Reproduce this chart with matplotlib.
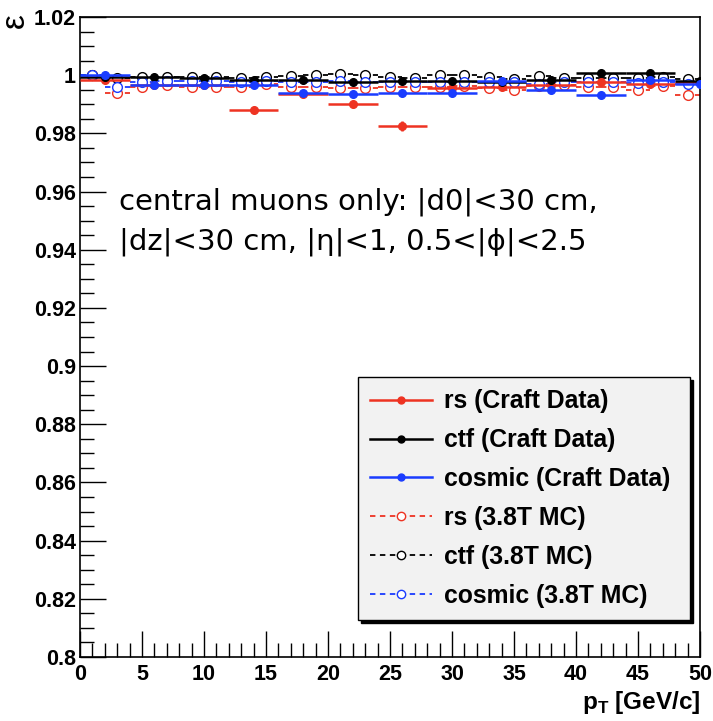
import numpy as np
import matplotlib
matplotlib.use("Agg")
import matplotlib.pyplot as plt
from matplotlib.lines import Line2D
from matplotlib.ticker import MultipleLocator

# data (4 GeV bins) and MC (2 GeV bins)
x_data = [2, 6, 10, 14, 18, 22, 26, 30, 34, 38, 42, 46, 50]
rs_data = [0.9985, 0.9965, 0.9965, 0.988, 0.9935, 0.990, 0.9825, 0.9955, 0.996, 0.9965, 0.9975, 0.997, 0.9975]
rs_data_err = [0.0005, 0.0005, 0.0006, 0.0009, 0.0008, 0.0009, 0.0018, 0.0007, 0.0007, 0.0008, 0.0008, 0.0008, 0.0009]
ctf_data = [0.9995, 0.9993, 0.999, 0.9985, 0.9985, 0.9975, 0.998, 0.998, 0.9978, 0.9985, 1.0008, 1.0008, 0.998]
ctf_data_err = [0.0004, 0.0004, 0.0004, 0.0005, 0.0005, 0.0005, 0.0006, 0.0006, 0.0006, 0.0006, 0.0007, 0.0007, 0.0008]
cosmic_data = [1.0, 0.9965, 0.9965, 0.9965, 0.994, 0.9935, 0.994, 0.994, 0.998, 0.9948, 0.9932, 0.9985, 0.997]
cosmic_data_err = [0.0004, 0.0005, 0.0005, 0.0006, 0.0007, 0.0007, 0.0007, 0.0008, 0.0008, 0.0009, 0.0009, 0.0009, 0.001]

x_mc = [1, 3, 5, 7, 9, 11, 13, 15, 17, 19, 21, 23, 25, 27, 29, 31, 33, 35, 37, 39, 41, 43, 45, 47, 49]
rs_mc = [1.0, 0.994, 0.996, 0.9965, 0.996, 0.996, 0.996, 0.9968, 0.996, 0.996, 0.9955, 0.9955, 0.996,
         0.9958, 0.996, 0.9963, 0.9955, 0.995, 0.9962, 0.9965, 0.996, 0.996, 0.995, 0.9962, 0.9932]
ctf_mc = [1.0, 0.999, 0.9995, 0.9993, 0.9993, 0.9993, 0.9992, 0.9995, 0.9997, 1.0, 1.0005, 1.0, 0.9993,
          0.999, 1.0, 1.0, 0.9993, 0.9988, 0.9997, 0.999, 0.999, 0.999, 0.999, 0.9993, 0.9988]
cosmic_mc = [1.0, 0.996, 0.9977, 0.998, 0.998, 0.998, 0.9978, 0.998, 0.9978, 0.9977, 0.998, 0.9978, 0.9977,
             0.9975, 0.9977, 0.9978, 0.9976, 0.9975, 0.997, 0.9975, 0.9977, 0.9975, 0.9972, 0.9975, 0.997]
mc_err = 0.0004

legend_labels = ["rs (Craft Data)", "ctf (Craft Data)", "cosmic (Craft Data)",
                 "rs (3.8T MC)", "ctf (3.8T MC)", "cosmic (3.8T MC)"]

RED = "#ee3322"
BLUE = "#1a3cff"
BLACK = "black"

plt.rcParams['font.family'] = ['Liberation Sans', 'DejaVu Sans']

fig = plt.figure(figsize=(7.13, 7.21), dpi=100)
ax = fig.add_axes([80/713, 1-657/721, 620/713, 640/721])

def draw_data(y, yerr, c):
    ax.errorbar(x_data, y, xerr=2, yerr=yerr, fmt='o', color=c, ms=5.5,
                elinewidth=1.8, capsize=0, zorder=3)

def draw_mc(y, c):
    eb = ax.errorbar(x_mc, y, xerr=1, yerr=mc_err, fmt='o', color=c, mfc='white',
                     ms=7, mew=1.0, elinewidth=1.3, capsize=0, zorder=2)
    for lc in eb[2]:
        lc.set_linestyle((0, (3, 2.5)))

draw_mc(rs_mc, RED)
draw_mc(ctf_mc, BLACK)
draw_mc(cosmic_mc, BLUE)
draw_data(rs_data, rs_data_err, RED)
draw_data(ctf_data, ctf_data_err, BLACK)
draw_data(cosmic_data, cosmic_data_err, BLUE)

ax.set_xlim(0, 50)
ax.set_ylim(0.8, 1.02)
ax.xaxis.set_major_locator(MultipleLocator(5))
ax.xaxis.set_minor_locator(MultipleLocator(1))
ax.yaxis.set_minor_locator(MultipleLocator(0.005))
ax.tick_params(which='both', direction='in', top=False, right=False)
ax.tick_params(which='major', length=19, width=1)
ax.tick_params(which='minor', length=10, width=1)
ax.tick_params(axis='x', labelsize=15.5, pad=5)
ax.tick_params(axis='y', labelsize=15.5, pad=3)
for lab in ax.get_xticklabels():
    lab.set_fontweight('bold')

yt = np.arange(0.8, 1.0201, 0.02)
ax.set_yticks(yt)
ax.set_yticklabels(["0.8", "0.82", "0.84", "0.86", "0.88", "0.9", "0.92", "0.94",
                    "0.96", "0.98", "1", "1.02"], fontweight='bold')
for s in ax.spines.values():
    s.set_linewidth(1.2)

ax.set_xlabel(r"p$_\mathregular{T}$ [GeV/c]", fontsize=17.5, fontweight='bold', loc='right')
ax.xaxis.set_label_coords(1.0, -0.05)
ax.set_ylabel("ε", fontsize=24, loc='top', rotation=90)
ax.yaxis.set_label_coords(-0.08, 1.006)

ax.text(0.063, 0.627, "central muons only: |d0|<30 cm,\n|dz|<30 cm, |η|<1, 0.5<|ϕ|<2.5",
        transform=ax.transAxes, fontsize=21, family='DejaVu Sans', linespacing=1.5, va='bottom')

handles = [
    Line2D([], [], color=RED, lw=1.8, marker='o', ms=5),
    Line2D([], [], color=BLACK, lw=1.8, marker='o', ms=5),
    Line2D([], [], color=BLUE, lw=1.8, marker='o', ms=5),
    Line2D([], [], color=RED, lw=1.3, ls=(0, (3, 2.5)), marker='o', mfc='white', ms=6),
    Line2D([], [], color=BLACK, lw=1.3, ls=(0, (3, 2.5)), marker='o', mfc='white', ms=6),
    Line2D([], [], color=BLUE, lw=1.3, ls=(0, (3, 2.5)), marker='o', mfc='white', ms=6),
]
leg = ax.legend(handles, [t + " " for t in legend_labels], loc='lower right',
                bbox_to_anchor=(0.984, 0.058),
                prop={'weight': 'bold', 'size': 17.8}, frameon=True, fancybox=False,
                shadow={'color': 'black', 'alpha': 1.0}, handlelength=2.5, labelspacing=0.6,
                borderpad=0.5, handletextpad=0.5, borderaxespad=0)
leg.get_frame().set_facecolor('#f2f2f2')
leg.get_frame().set_edgecolor('black')
leg.get_frame().set_linewidth(1.0)
leg.get_frame().set_alpha(1.0)

fig.savefig("out.png", dpi=100, facecolor='white')
